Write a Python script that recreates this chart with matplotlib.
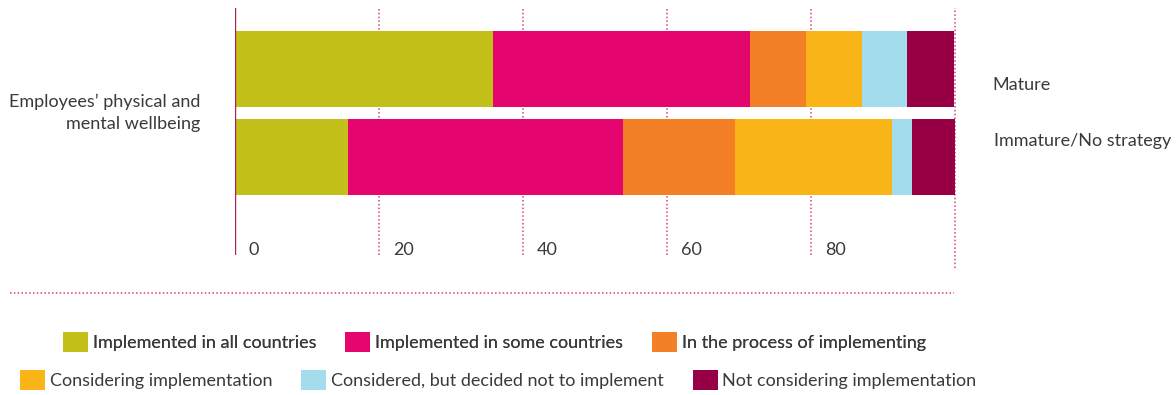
import matplotlib
matplotlib.use("Agg")
import matplotlib.pyplot as plt
from matplotlib.lines import Line2D

plt.rcParams['font.family'] = ['Lato', 'DejaVu Sans']

# share of companies (%) per implementation status
groups = ["Mature", "Immature/No strategy"]
statuses = ["Implemented in all countries", "Implemented in some countries",
            "In the process of implementing", "Considering implementation",
            "Considered, but decided not to implement", "Not considering implementation"]
values = {
    "Mature":               [35.9, 35.7, 7.8, 7.8, 6.2, 6.6],
    "Immature/No strategy": [15.8, 38.2, 15.5, 21.8, 2.8, 5.9],
}
colors = ["#c3c119", "#e4056e", "#f37f27", "#f9b418", "#a3dcec", "#970044"]
ticks = [0, 20, 40, 60, 80]
grid_x = [20, 40, 60, 80, 100]
topic = "Employees\u2019 physical and\nmental wellbeing"

text_col = "#3a3a3a"
grid_col = "#d6407f"
fs = 13

fig = plt.figure(figsize=(11.76, 3.95), dpi=100)
W, H = 1176, 395
ax = fig.add_axes([234.5 / W, 1 - 255 / H, 720 / W, 247 / H])

ypos = range(len(groups))
left = [0.0] * len(groups)
handles = []
for k, st in enumerate(statuses):
    w = [values[g][k] for g in groups]
    b = ax.barh(list(ypos), w, left=left, height=0.864, color=colors[k],
                label=st, zorder=3)
    handles.append(b)
    left = [l + v for l, v in zip(left, w)]

ax.set_xlim(0, 100)
ax.set_ylim(2.114, -0.693)
ax.axis("off")

# dotted grid, last line runs a little lower
for v in grid_x:
    ymin = -0.053 if v == 100 else 0
    ax.axvline(v, ymin=ymin, ymax=1, color=grid_col, lw=1.1,
               linestyle=(0, (1, 1.5)), zorder=1, clip_on=False)
ax.axvline(0, color="#a8245f", lw=1.0, zorder=4)

tr = ax.get_xaxis_transform()
for t in ticks:
    ax.text(t + 2, 0.02, str(t), transform=tr, ha="left", va="center",
            fontsize=fs, color=text_col)

ax.text(-4.8, 0.5, topic, ha="right", va="center", fontsize=fs,
        color=text_col, linespacing=1.45)
ax.text(105.3, 0.18, groups[0], ha="left", va="center", fontsize=fs, color=text_col)
ax.text(105.5, 0.82, groups[1], ha="left", va="center", fontsize=fs, color=text_col)

fig.add_artist(Line2D([10 / W, 954 / W], [1 - 293 / H, 1 - 293 / H],
                      transform=fig.transFigure, color=grid_col, lw=1.1,
                      linestyle=(0, (1, 1.5))))

leg_kw = dict(ncol=3, frameon=False, fontsize=fs, handlelength=1.4,
              handleheight=1.4, handletextpad=0.25, columnspacing=1.6,
              borderpad=0, borderaxespad=0, labelcolor=text_col, loc="center left")
leg1 = fig.legend(handles[:3], statuses[:3], bbox_to_anchor=(63 / W, 1 - 342 / H), **leg_kw)
fig.add_artist(leg1)
fig.legend(handles[3:], statuses[3:], bbox_to_anchor=(20 / W, 1 - 380 / H), **leg_kw)

fig.savefig("out.png", dpi=100)
